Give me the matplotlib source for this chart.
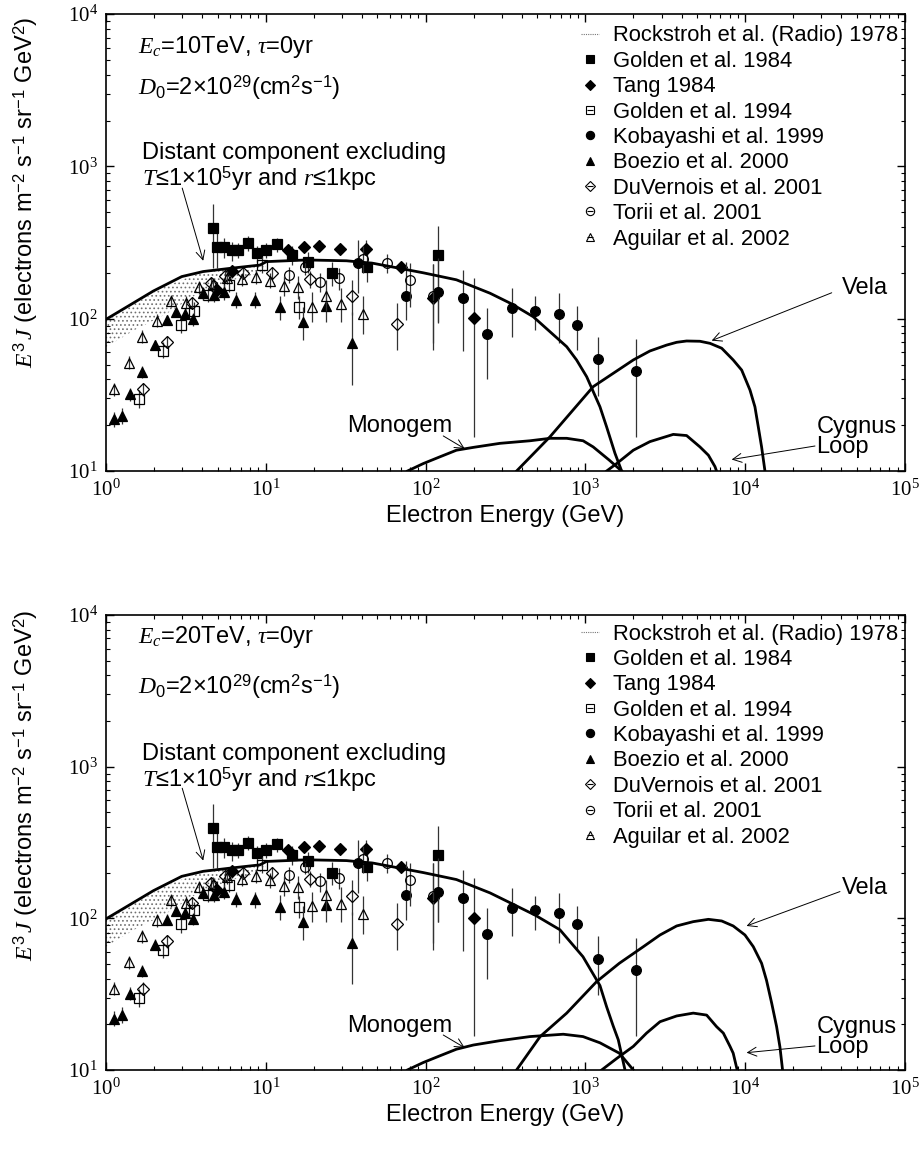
"""Cosmic-ray electron spectrum E^3 J vs energy with nearby SNR contributions (two E_c cases)."""

import matplotlib
matplotlib.use("Agg")
import numpy as np
from matplotlib import pyplot as plt
from matplotlib.lines import Line2D

plt.rcParams["font.family"] = ["Liberation Sans", "DejaVu Sans"]
plt.rcParams["mathtext.fontset"] = "custom"
plt.rcParams["mathtext.rm"] = "Liberation Sans"
plt.rcParams["mathtext.sf"] = "Liberation Sans"
plt.rcParams["mathtext.it"] = "Liberation Serif:italic"
plt.rcParams["mathtext.bf"] = "Liberation Sans:bold"
plt.rcParams["hatch.linewidth"] = 0.7

# --- measurements (E in GeV, E^3 J with lower / upper error bounds) ---
gold84_E = [4.69, 4.93, 5.50, 6.12, 6.73, 7.78, 8.77, 9.98, 11.8, 14.5, 18.5, 25.8, 42.7, 120]
gold84_v = [392, 297, 297, 282, 282, 315, 269, 282, 308, 262, 237, 200, 219, 262]
gold84_lo = [215, 215, 250, 240, 250, 280, 235, 250, 275, 225, 200, 165, 175, 94]
gold84_hi = [566, 366, 340, 320, 315, 350, 300, 315, 340, 300, 275, 235, 270, 406]

tang_E = [4.93, 6.12, 13.8, 17.4, 21.5, 29.1, 42.4, 70.2, 112, 201]
tang_v = [154, 205, 282, 297, 300, 287, 287, 219, 136, 101]
tang_lo = [135, 185, 265, 280, 285, 270, 260, 205, 69, 16.8]
tang_hi = [175, 225, 300, 315, 318, 305, 330, 235, 230, 185]

gold94_E = [1.62, 2.26, 2.93, 3.57, 4.37, 5.91, 9.42, 16.1]
gold94_v = [29.7, 61.7, 91, 113, 143, 166, 225, 119]
gold94_lo = [26, 55, 80, 100, 128, 150, 200, 100]
gold94_hi = [34, 70, 103, 128, 160, 185, 255, 140]

koba_E = [37.9, 75.4, 120, 172, 241, 346, 484, 687, 891, 1206, 2064]
koba_v = [233, 142, 150, 137, 79, 117, 113, 108, 91, 54, 45.6]
koba_lo = [147, 98, 95, 61, 40, 76, 84, 69, 62, 31, 16.8]
koba_hi = [329, 237, 250, 208, 117, 158, 141, 147, 121, 76, 74]

boez_E = [1.12, 1.26, 1.41, 1.67, 2.03, 2.40, 2.74, 3.12, 3.49, 4.03, 4.74, 5.47, 6.47, 8.55, 12.2, 17.2, 23.7, 34.4]
boez_v = [21.8, 23, 31.9, 44.9, 67, 98, 111, 108, 99, 147, 143, 150, 133, 133, 119, 95, 122, 69]
boez_lo = [19.5, 20.5, 29, 41, 62, 91, 103, 99, 90, 133, 128, 133, 118, 117, 98, 72, 95, 36.7]
boez_hi = [24.5, 26, 35, 49, 73, 106, 120, 118, 109, 162, 160, 168, 150, 150, 142, 120, 155, 110]

duve_E = [1.71, 2.40, 3.43, 4.52, 5.56, 7.16, 11.0, 18.9, 34.8, 66.5]
duve_v = [34.4, 70.6, 127, 171, 191, 200, 200, 181, 140, 92]
duve_lo = [31, 64, 116, 156, 175, 183, 183, 160, 105, 62]
duve_hi = [38, 77, 139, 187, 208, 218, 218, 205, 180, 126]

torii_E = [14.0, 17.6, 21.8, 28.8, 40.8, 57.1, 79.8, 112]
torii_v = [194, 217, 175, 184, 245, 231, 180, 141]
torii_lo = [172, 195, 150, 155, 200, 200, 120, 62]
torii_hi = [218, 240, 200, 215, 300, 265, 231, 230]

agui_E = [1.13, 1.39, 1.69, 2.09, 2.55, 3.17, 3.84, 4.65, 5.69, 7.06, 8.68, 10.6, 13.0, 16.0, 19.4, 23.8, 29.4, 40.8]
agui_v = [34.4, 51.4, 76.2, 97, 131, 127, 161, 169, 186, 181, 189, 178, 164, 161, 120, 142, 125, 107]
agui_lo = [31, 46.5, 69, 88, 119, 115, 146, 153, 168, 163, 170, 158, 140, 135, 95, 112, 95, 79]
agui_hi = [38, 56.5, 84, 107, 144, 140, 177, 186, 205, 200, 210, 200, 190, 190, 150, 180, 160, 140]

# radio band (Rockstroh 1978)
rock_E = [1.0, 1.5, 2.4, 3.9, 6.3, 10.0]
rock_lo = [65, 84, 108, 150, 180, 205]
rock_hi = [97, 125, 165, 200, 215, 228]

# --- model curves, E_c = 10 TeV ---
dist10_E = [1.0, 1.98, 2.98, 4.06, 5.97, 9.2, 10.1, 18.0, 32, 47, 97, 156, 253, 346, 472,
            764, 881, 1019, 1234, 1358, 1531, 1687]
dist10_v = [99, 152, 189, 204, 214, 225, 237, 243, 240, 231, 200, 180, 147, 125, 103,
            65.5, 53.6, 41.6, 26.4, 19.5, 13.1, 10]
vela10_E = [371, 601, 1119, 1995, 2535, 3222, 3726, 4300, 5212, 6026, 7130, 8415, 9510,
            10720, 11510, 12080, 12670, 13300]
vela10_v = [10, 16.8, 35.8, 53.6, 61.4, 67.1, 70, 71.4, 71.1, 68.9, 64, 53.6, 46,
            34, 26.4, 19.5, 14.4, 10]
mono10_E = [77, 96.8, 123, 156, 199, 292, 450, 601, 764, 968, 1119, 1410, 1687]
mono10_v = [10, 11.2, 12.4, 13.7, 14.3, 15.2, 15.8, 16.4, 16.4, 15.8, 14.4, 11.8, 10]
cyg10_E = [1358, 1570, 1995, 2535, 3548, 4300, 5212, 5888, 6470, 6622]
cyg10_v = [10, 11.2, 13.7, 15.6, 17.4, 17.1, 14.4, 12.7, 10.7, 10]

# --- model curves, E_c = 20 TeV ---
dist20_E = [1.0, 1.98, 2.98, 4.06, 5.97, 9.2, 10.1, 18.0, 32, 47, 97, 156, 253, 346, 484,
            693, 966, 1234, 1358, 1493, 1607, 1770]
dist20_v = [99, 152, 189, 204, 214, 225, 237, 243, 240, 231, 200, 180, 147, 125, 105,
            84, 55.8, 36, 26.1, 19.5, 15.8, 10]
vela20_E = [371, 521, 764, 1175, 1631, 2307, 2931, 3726, 4732, 5888, 7130, 8415, 9970,
            11240, 12670, 13600, 14660, 15730, 16500, 17140]
vela20_v = [10, 16.6, 23.7, 38.2, 50.5, 65, 77.6, 89, 95, 98.4, 96, 89, 77.6,
            65, 50.5, 39, 27.5, 19.3, 14.2, 10]
mono20_E = [77, 96.8, 123, 156, 199, 292, 450, 727, 966, 1234, 1631, 1995]
mono20_v = [10, 11.2, 12.4, 13.7, 14.6, 15.6, 16.6, 17.2, 16.6, 15.1, 12.9, 10]
cyg20_E = [1265, 1570, 1995, 2415, 2931, 3726, 4732, 5740, 6622, 7300, 8040, 8415, 8913]
cyg20_v = [10, 11.9, 14.3, 17.5, 20.8, 22.7, 23.7, 23, 19.3, 17.5, 14.3, 12.9, 10]

FS = 17
LEG_FS = 15.8
series = [
    ("Golden et al. 1984", gold84_E, gold84_v, gold84_lo, gold84_hi, "s", "k", 7.0),
    ("Tang 1984", tang_E, tang_v, tang_lo, tang_hi, "D", "k", 6.0),
    ("Golden et al. 1994", gold94_E, gold94_v, gold94_lo, gold94_hi, "s", "none", 7.0),
    ("Kobayashi et al. 1999", koba_E, koba_v, koba_lo, koba_hi, "o", "k", 7.0),
    ("Boezio et al. 2000", boez_E, boez_v, boez_lo, boez_hi, "^", "k", 6.5),
    ("DuVernois et al. 2001", duve_E, duve_v, duve_lo, duve_hi, "D", "none", 6.5),
    ("Torii et al. 2001", torii_E, torii_v, torii_lo, torii_hi, "o", "none", 7.0),
    ("Aguilar et al. 2002", agui_E, agui_v, agui_lo, agui_hi, "^", "none", 7.0),
]


def draw_panel(ax, ec, curves, pos):
    ax.fill_between(rock_E, rock_lo, rock_hi, facecolor="none", edgecolor="#707070",
                    hatch="....", linewidth=0)
    for label, E, v, lo, hi, mk, fc, ms in series:
        E, v = np.array(E), np.array(v)
        err = [v - np.array(lo), np.array(hi) - v]
        ax.errorbar(E, v, yerr=err, fmt="none", ecolor="#333333", elinewidth=0.9)
        ax.plot(E, v, ls="none", marker=mk, ms=ms, mfc=fc, mec="k", mew=0.9)
    for E, v in curves:
        ax.plot(E, v, color="k", lw=2.0, solid_joinstyle="round")

    ax.set_xscale("log")
    ax.set_yscale("log")
    ax.set_xlim(1, 1e5)
    ax.set_ylim(10, 1e4)
    ax.tick_params(which="both", direction="in", top=True, right=True,
                   labelsize=15, labelfontfamily="Liberation Serif")
    ax.tick_params(which="major", length=6, width=1.0, pad=6)
    ax.tick_params(which="minor", length=3, width=0.8)
    for sp in ax.spines.values():
        sp.set_linewidth(1.2)
    ax.set_xlabel("Electron Energy (GeV)", fontsize=FS, labelpad=3)
    ax.set_ylabel(r"$E^3\,J$ (electrons m$^{-2}$ s$^{-1}$ sr$^{-1}$ GeV$^2$)", fontsize=FS)
    ax.yaxis.set_label_coords(-0.082, pos["ylab"])

    ax.text(0.040, pos["ec"], r"$E_c$=%dTeV, $\tau$=0yr" % ec, transform=ax.transAxes,
            fontsize=FS, va="center")
    ax.text(0.040, pos["d0"], r"$D_0$=2$\times$10$^{29}$(cm$^2$s$^{-1}$)", transform=ax.transAxes,
            fontsize=FS, va="center")
    ax.text(0.045, 0.695, "Distant component excluding", transform=ax.transAxes,
            fontsize=FS, va="center")
    ax.text(0.045, 0.639, r"$T$≤1×10$^5$yr and $r$≤1kpc", transform=ax.transAxes,
            fontsize=FS, va="center")

    arrow = dict(arrowstyle="->", lw=0.7, color="k", shrinkA=0, shrinkB=0, mutation_scale=16)
    ax.annotate("", xy=(4.06, 240), xytext=(3.0, 720), arrowprops=arrow)
    ax.annotate("", xy=(176, 14.0), xytext=(129, 17.0), arrowprops=arrow)
    ax.text(69, pos["mono"], "Monogem", fontsize=FS, ha="center", va="center")
    ax.annotate("", xy=pos["vela_head"], xytext=pos["vela_tail"], arrowprops=arrow)
    ax.text(56000, 158, "Vela", fontsize=FS, ha="center", va="center")
    ax.annotate("", xy=pos["cyg_head"], xytext=pos["cyg_tail"], arrowprops=arrow)
    ax.text(28000, pos["cyg"], "Cygnus\nLoop", fontsize=FS, ha="left", va="center",
            linespacing=0.9)

    handles = [Line2D([], [], ls=(0, (1, 1)), lw=0.8, color="#777777")]
    labels = ["Rockstroh et al. (Radio) 1978"]
    for label, E, v, lo, hi, mk, fc, ms in series:
        m = Line2D([], [], ls="none", marker=mk, ms=ms * 0.85, mfc=fc, mec="k", mew=0.8)
        if fc == "none":
            bar = Line2D([], [], ls="none", marker="_", ms=ms * 0.65, mec="k", mew=0.8)
            handles.append((m, bar))
        else:
            handles.append(m)
        labels.append(label)
    ax.legend(handles, labels, loc="upper left", bbox_to_anchor=(0.595, pos["leg"]),
              frameon=False, borderpad=0, borderaxespad=0, handlelength=0.8,
              handletextpad=0.65, labelspacing=0.2, fontsize=LEG_FS)


fig = plt.figure(figsize=(9.24, 11.5), dpi=100)
ax_top = fig.add_axes([0.1147, 0.5904, 0.8647, 0.3974])
ax_bot = fig.add_axes([0.1147, 0.0696, 0.8647, 0.3957])

draw_panel(ax_top, 10,
           [(dist10_E, dist10_v), (vela10_E, vela10_v), (mono10_E, mono10_v), (cyg10_E, cyg10_v)],
           dict(ylab=0.61, ec=0.928, d0=0.838, mono=19.7, cyg=16.7, leg=0.975,
                vela_head=(6170, 71.8), vela_tail=(34800, 148),
                cyg_head=(8230, 11.9), cyg_tail=(27350, 14.6)))
draw_panel(ax_bot, 20,
           [(dist20_E, dist20_v), (vela20_E, vela20_v), (mono20_E, mono20_v), (cyg20_E, cyg20_v)],
           dict(ylab=0.625, ec=0.952, d0=0.842, mono=19.5, cyg=16.5, leg=0.981,
                vela_head=(10200, 89), vela_tail=(39200, 150),
                cyg_head=(10200, 13.0), cyg_tail=(27350, 14.4)))

fig.savefig("out.png", dpi=100)
